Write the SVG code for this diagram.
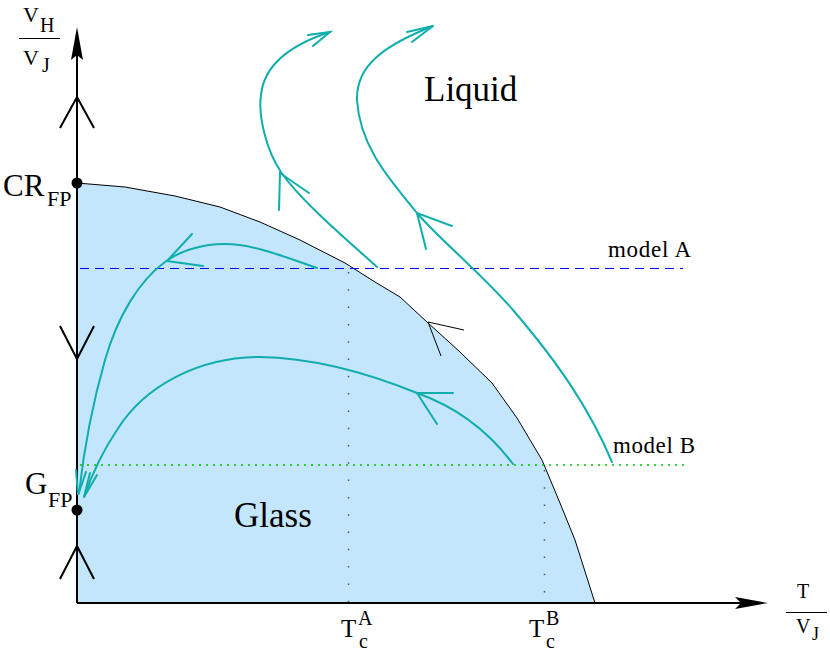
<svg xmlns="http://www.w3.org/2000/svg" width="830" height="651" viewBox="0 0 830 651">
<style>
text{font-family:"Liberation Serif","Times New Roman",serif;fill:#000}
.flow{fill:none;stroke:#10adad;stroke-width:2;stroke-linecap:round;stroke-linejoin:miter}
.chev{fill:none;stroke:#000;stroke-width:2}
.thin{fill:none;stroke:#000;stroke-width:1}
</style>
<rect width="830" height="651" fill="#fff"/>
<g id="glass-region">
<path d="M77,183 L125,187 L175,196 L220,207 L260,222 L300,240 L345,263 L375,282 L400,297 L427,322 L460,352 L492,383 L517,418 L542,460 L560,503 L575,540 L595,603 L77,603 Z" fill="#c4e6fc"/>
<polyline class="thin" points="77,183 125,187 175,196 220,207 260,222 300,240 345,263 375,282 400,297 427,322 460,352 492,383 517,418 542,460 560,503 575,540 595,603"/>
<polyline class="thin" points="464,330 428,322 441,356"/>
</g>
<g id="model-lines">
<line x1="80" y1="268.5" x2="683" y2="268.5" stroke="#0000ff" stroke-width="1" stroke-dasharray="9 6"/>
<line x1="80" y1="465" x2="688" y2="465" stroke="#00c000" stroke-width="1.5" stroke-dasharray="2 5"/>
<line x1="348.5" y1="272" x2="348.5" y2="603" stroke="#555" stroke-width="1.5" stroke-dasharray="1.5 15.8"/>
<line x1="544.5" y1="470" x2="544.5" y2="603" stroke="#555" stroke-width="1.5" stroke-dasharray="1.5 15.8"/>
</g>
<g id="axes">
<line x1="77" y1="603" x2="77" y2="45" stroke="#000" stroke-width="2"/>
<path d="M77,27 L83,60 L77,55 L71,60 Z" fill="#000"/>
<line x1="77" y1="603" x2="745" y2="603" stroke="#000" stroke-width="2"/>
<path d="M768,603 L735,597 L741,603 L735,609 Z" fill="#000"/>
<polyline class="chev" points="60,128 77,97 94,128"/>
<polyline class="chev" points="60,326 77,359 94,326"/>
<polyline class="chev" points="60,579 77,546 94,579"/>
</g>
<g id="CR-FP">
<circle cx="77" cy="183" r="5.5" fill="#000"/>
<text x="3" y="196" font-size="31">CR</text>
<text x="47" y="206" font-size="22">FP</text>
</g>
<g id="G-FP">
<circle cx="77" cy="510" r="5.5" fill="#000"/>
<text x="25" y="494" font-size="31">G</text>
<text x="48" y="507" font-size="22">FP</text>
</g>
<g id="y-label">
<text x="23" y="22" font-size="22">V</text>
<text x="40" y="32" font-size="20">H</text>
<line x1="19" y1="38.5" x2="60" y2="38.5" stroke="#000" stroke-width="1"/>
<text x="23" y="65" font-size="22">V</text>
<text x="42" y="72" font-size="20">J</text>
</g>
<g id="x-label">
<text x="797" y="598" font-size="20">T</text>
<line x1="786" y1="612.5" x2="827" y2="612.5" stroke="#000" stroke-width="1"/>
<text x="796" y="633" font-size="20">V</text>
<text x="812" y="640" font-size="18">J</text>
</g>
<g id="TcA">
<text x="341" y="637" font-size="25">T</text>
<text x="358" y="625" font-size="20">A</text>
<text x="359" y="648" font-size="20">c</text>
</g>
<g id="TcB">
<text x="529" y="637" font-size="25">T</text>
<text x="546" y="625" font-size="20">B</text>
<text x="546" y="648" font-size="20">c</text>
</g>
<g id="labels">
<text x="424" y="101" font-size="35">Liquid</text>
<text x="234" y="527" font-size="35">Glass</text>
<text x="608" y="257" font-size="23" textLength="83">model A</text>
<text x="613" y="453" font-size="23" textLength="82">model B</text>
</g>
<g id="connectors">
<path class="flow" d="M377,267 C345,238 300,200 281,172 C266,150 258,115 261,95 C264,65 290,45 330,32"/>
<polyline class="flow" points="308,35 330,32 313,46"/>
<polyline class="flow" points="279,210 280,173 309,193"/>
<path class="flow" d="M612,462 C590,410 560,365 513,310 C480,272 440,240 417,213 C395,185 360,150 357,100 C356,65 385,45 433,26"/>
<polyline class="flow" points="407,32 433,26 412,42"/>
<polyline class="flow" points="452,226 417,213 426,249"/>
<path class="flow" d="M317,268 C290,259 255,244 225,244 C200,244 178,252 165,262 C140,280 118,315 105,360 C95,395 85,440 79,493"/>
<polyline class="flow" points="192,234 167,261 203,266"/>
<polyline class="flow" points="76,470 78,495 86,472"/>
<path class="flow" d="M513,464 C495,440 465,410 417,393 C380,378 320,358 260,357 C200,357 145,385 117,430 C100,455 90,480 84,497"/>
<polyline class="flow" points="453,393 417,393 437,424"/>
<polyline class="flow" points="90,473 84,497 97,475"/>
</g>
</svg>
